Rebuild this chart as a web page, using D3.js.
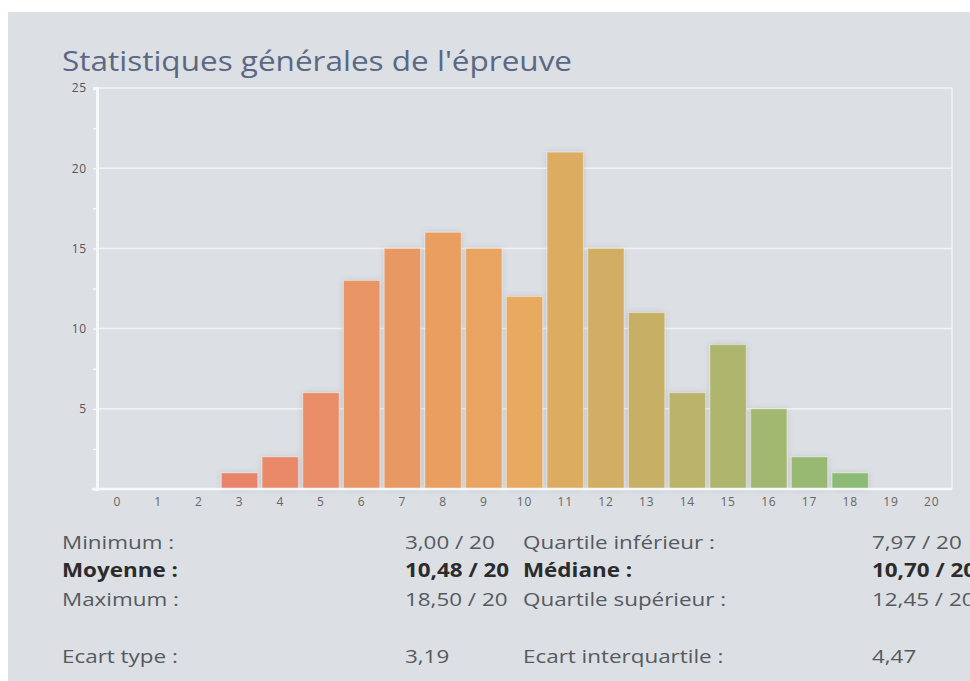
<!DOCTYPE html>
<html>
<head>
<meta charset="utf-8">
<script src="https://cdn.jsdelivr.net/npm/d3@7"></script>
<style>
  body { margin: 0; background: #fff; }
  svg { display: block; font-family: "Open Sans", sans-serif; }
</style>
</head>
<body>
<div id="chart"></div>
<script>
// notes 0..20 and number of students per note
var notes = ['0', '1', '2', '3', '4', '5', '6', '7', '8', '9', '10',
  '11', '12', '13', '14', '15', '16', '17', '18', '19', '20'];
var effectifs = [0, 0, 0, 1, 2, 6, 13, 15, 16, 15, 12, 21, 15, 11, 6, 9, 5, 2, 1, 0, 0];
var yTicks = [5, 10, 15, 20, 25];

var title = "Statistiques générales de l'épreuve";
var leftLabels = ['Minimum :', 'Moyenne :', 'Maximum :', '', 'Ecart type :'];
var leftValues = ['3,00 / 20', '10,48 / 20', '18,50 / 20', '', '3,19'];
var rightLabels = ['Quartile inférieur :', 'Médiane :', 'Quartile supérieur :', '', 'Ecart interquartile :'];
var rightValues = ['7,97 / 20', '10,70 / 20', '12,45 / 20', '', '4,47'];
var boldRow = 1;

var W = 970, H = 681;
var m = {left: 97, right: 952, top: 88, bottom: 489};
var stretch = 1.18; // the screenshot text is a bit wider than normal

var svg = d3.select('#chart').append('svg')
  .attr('width', W)
  .attr('height', H);

var defs = svg.append('defs');
var shadow = defs.append('filter').attr('id', 'shadow')
  .attr('x', '-30%').attr('y', '-30%').attr('width', '160%').attr('height', '160%');
shadow.append('feDropShadow')
  .attr('dx', 0).attr('dy', 0).attr('stdDeviation', 3)
  .attr('flood-color', '#000').attr('flood-opacity', 0.12);

// panel
svg.append('rect')
  .attr('x', 8).attr('y', 12)
  .attr('width', W - 8).attr('height', H - 12)
  .attr('fill', '#dcdfe3');

svg.append('g')
  .attr('transform', 'translate(62,71) scale(1.125,1)')
  .append('text')
  .attr('x', 0).attr('y', 0)
  .attr('font-size', 28)
  .attr('fill', '#5a6884')
  .text(title);

var x = d3.scaleBand()
  .domain(notes)
  .range([m.left, m.right])
  .paddingInner(0.11)
  .paddingOuter(0.055);

var y = d3.scaleLinear()
  .domain([0, 25])
  .range([m.bottom, m.top]);

var color = d3.scaleLinear()
  .domain([3, 10, 18])
  .range(['#e9836a', '#e8aa5e', '#8bbb74']);

// grid lines
svg.append('g').selectAll('line')
  .data(yTicks)
  .enter().append('line')
  .attr('x1', m.left).attr('x2', m.right)
  .attr('y1', function (d) { return y(d); })
  .attr('y2', function (d) { return y(d); })
  .attr('stroke', '#f2f3f5')
  .attr('stroke-width', 1.5);

svg.append('line')
  .attr('x1', m.right).attr('x2', m.right)
  .attr('y1', m.top).attr('y2', m.bottom)
  .attr('stroke', '#f2f3f5')
  .attr('stroke-width', 1.5);

// bars
svg.append('g').selectAll('rect')
  .data(notes.map(function (n, i) { return {note: n, v: effectifs[i], i: i}; })
    .filter(function (d) { return d.v > 0; }))
  .enter().append('rect')
  .attr('x', function (d) { return x(d.note); })
  .attr('y', function (d) { return y(d.v); })
  .attr('width', x.bandwidth())
  .attr('height', function (d) { return y(0) - y(d.v); })
  .attr('fill', function (d) { return color(d.i); })
  .attr('stroke', 'rgba(255,255,255,0.35)')
  .attr('stroke-width', 1)
  .attr('filter', 'url(#shadow)');

// y axis
var yAxis = d3.axisLeft(y)
  .tickValues(d3.range(2.5, 25.1, 2.5))
  .tickSize(4)
  .tickPadding(6)
  .tickFormat(function (d) { return yTicks.indexOf(d) >= 0 ? d : ''; });

var gy = svg.append('g')
  .attr('transform', 'translate(' + m.left + ',0)')
  .call(yAxis);
gy.select('.domain').attr('stroke', '#f7f8f9').attr('stroke-width', 3);
gy.selectAll('.tick line').attr('stroke', '#f7f8f9').attr('stroke-width', 1.5);
gy.selectAll('.tick text')
  .attr('font-family', '"Open Sans", sans-serif')
  .attr('font-size', 12)
  .attr('letter-spacing', 0.8)
  .attr('fill', '#555');

// x axis
var xAxis = d3.axisBottom(x).tickSize(0).tickPadding(8);
var gx = svg.append('g')
  .attr('transform', 'translate(0,' + m.bottom + ')')
  .call(xAxis);
gx.select('.domain').remove();
gx.selectAll('.tick text')
  .attr('font-family', '"Open Sans", sans-serif')
  .attr('font-size', 12)
  .attr('letter-spacing', 0.8)
  .attr('fill', '#666');
svg.append('line')
  .attr('x1', m.left - 5).attr('x2', m.right)
  .attr('y1', m.bottom).attr('y2', m.bottom)
  .attr('stroke', '#f7f8f9')
  .attr('stroke-width', 2.5);

// statistics table
var rowY = d3.scaleLinear().domain([0, 1]).range([549, 577.5]);
var cols = [
  {x: 62, data: leftLabels},
  {x: 405, data: leftValues},
  {x: 523, data: rightLabels},
  {x: 872, data: rightValues}
];
cols.forEach(function (c) {
  svg.append('g')
    .attr('transform', 'translate(' + c.x + ',0) scale(' + stretch + ',1)')
    .selectAll('text')
    .data(c.data)
    .enter().append('text')
    .attr('x', 0)
    .attr('y', function (d, i) { return rowY(i); })
    .attr('font-size', 19)
    .attr('font-weight', function (d, i) { return i === boldRow ? 'bold' : 'normal'; })
    .attr('fill', function (d, i) { return i === boldRow ? '#2b2b2b' : '#555a5f'; })
    .text(function (d) { return d; });
});
</script>
</body>
</html>
